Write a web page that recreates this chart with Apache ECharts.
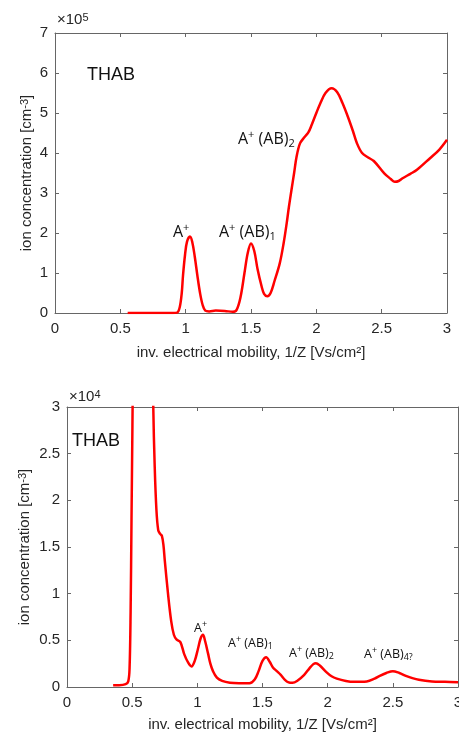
<!DOCTYPE html>
<html>
<head>
<meta charset="utf-8">
<script src="https://cdn.jsdelivr.net/npm/echarts@6/dist/echarts.min.js"></script>
<style>
html,body{margin:0;padding:0;background:#fff;}
#c{width:459px;height:733px;}
</style>
</head>
<body>
<div id="c"></div>
<script>
// ---- Data ----
// Top panel: inverse mobility (Vs/cm²) and ion concentration (×10^5 cm^-3)
const topX = [0.556,0.9,0.935,0.955,0.97,0.98,0.995,1.01,1.033,1.05,1.07,1.089,1.11,1.13,1.15,1.18,1.23,1.3,1.36,1.39,1.42,1.45,1.475,1.50,1.525,1.55,1.58,1.60,1.625,1.65,1.68,1.72,1.75,1.773,1.79,1.81,1.83,1.849,1.875,1.91,1.94,1.964,2.0,2.03,2.07,2.117,2.16,2.2,2.24,2.28,2.31,2.35,2.40,2.44,2.52,2.57,2.60,2.63,2.66,2.72,2.77,2.87,2.94,3.0];
const topY = [0,0,0.01,0.15,0.5,0.95,1.45,1.78,1.91,1.78,1.4,0.95,0.5,0.2,0.06,0.04,0.06,0.05,0.03,0.08,0.4,1.0,1.5,1.74,1.55,1.1,0.68,0.48,0.42,0.5,0.8,1.24,1.75,2.24,2.65,3.08,3.5,3.91,4.24,4.4,4.52,4.7,5.0,5.24,5.5,5.62,5.52,5.25,4.92,4.55,4.25,4.0,3.88,3.8,3.49,3.35,3.28,3.3,3.37,3.48,3.58,3.87,4.08,4.33];

// Bottom panel: inverse mobility (Vs/cm²) and ion concentration (×10^4 cm^-3)
const botX = [0.354,0.40,0.45,0.47,0.48,0.488,0.495,0.502,0.51,0.53,0.57,0.62,0.65,0.662,0.673,0.686,0.70,0.715,0.728,0.74,0.75,0.775,0.80,0.82,0.84,0.87,0.90,0.93,0.955,0.98,1.005,1.025,1.043,1.06,1.082,1.10,1.12,1.15,1.19,1.25,1.32,1.40,1.44,1.47,1.50,1.528,1.555,1.58,1.61,1.64,1.67,1.70,1.73,1.77,1.82,1.86,1.89,1.91,1.94,1.99,2.03,2.07,2.14,2.2,2.3,2.36,2.40,2.45,2.50,2.55,2.60,2.65,2.70,2.80,2.9,3.0];
const botY = [0.02,0.02,0.03,0.06,0.2,0.8,1.8,2.8,4,7,9,8,4.5,3.0,2.36,1.9,1.68,1.64,1.62,1.52,1.36,1.0,0.7,0.56,0.51,0.48,0.35,0.26,0.22,0.28,0.41,0.52,0.56,0.49,0.36,0.25,0.17,0.1,0.065,0.045,0.04,0.04,0.08,0.17,0.28,0.32,0.27,0.21,0.17,0.13,0.08,0.05,0.045,0.07,0.13,0.2,0.245,0.255,0.23,0.16,0.115,0.09,0.065,0.055,0.06,0.09,0.12,0.15,0.17,0.15,0.12,0.095,0.077,0.06,0.055,0.05];

const xTicks = [0, 3, 0.5];      // min, max, interval
const topYTicks = [0, 7, 1];
const botYTicks = [0, 3, 0.5];

// ---- Styles ----
const AX = '#666666';
const LBL = '#262626';
const FONT = '"Liberation Sans", Arial, sans-serif';
const ANN = '"Open Sans", Lato, sans-serif';

function pairs(xs, ys){ return xs.map((x,i)=>[x, ys[i]]); }

function xAxisDef(grid, pos, labels, name, gap){
  return {
    type:'value', gridIndex:grid, position:pos,
    min:xTicks[0], max:xTicks[1], interval:xTicks[2],
    axisLine:{show:true, onZero:false, lineStyle:{color:AX, width:1}},
    axisTick:{show:true, inside:true, length:4, lineStyle:{color:AX}},
    axisLabel:{show:labels, color:LBL, fontSize:15, fontFamily:FONT, margin:8},
    splitLine:{show:false},
    name: labels ? name : '', nameLocation:'middle', nameGap:gap, nameMoveOverlap:false,
    nameTextStyle:{color:LBL, fontSize:15, fontFamily:FONT}
  };
}
function yAxisDef(grid, pos, labels, ticks, gap){
  return {
    type:'value', gridIndex:grid, position:pos,
    min:ticks[0], max:ticks[1], interval:ticks[2],
    axisLine:{show:true, onZero:false, lineStyle:{color:AX, width:1}},
    axisTick:{show:true, inside:true, length:4, lineStyle:{color:AX}},
    axisLabel:{show:labels, color:LBL, fontSize:15, fontFamily:FONT, margin:7},
    splitLine:{show:false},
    name: labels ? 'ion concentration [cm{s|-3}]' : '', nameLocation:'middle', nameGap:gap,
    nameRotate:90, nameMoveOverlap:false,
    nameTextStyle:{color:LBL, fontSize:15, fontFamily:FONT,
      rich:{s:{fontSize:11, fontFamily:FONT, color:LBL, verticalAlign:'top', lineHeight:8}}}
  };
}

const xName = 'inv. electrical mobility, 1/Z [Vs/cm²]';

function annot(x, y, text, big){
  const fs = big ? 16 : 12.5, ss = big ? 11 : 9;
  return {
    type:'text', x:x, y:y, z:10,
    style:{
      text:text, fill:'#111', font: fs+'px '+ANN, verticalAlign:'middle', align:'left',
      rich:{
        n:{fontSize:fs, fontFamily:ANN, fill:'#111', lineHeight:fs+4, verticalAlign:'middle'},
        p:{fontSize:ss, fontFamily:ANN, fill:'#111', lineHeight:ss, verticalAlign:'top'},
        b:{fontSize:ss, fontFamily:ANN, fill:'#111', lineHeight:ss, verticalAlign:'bottom'}
      }
    }
  };
}

const chart = echarts.init(document.getElementById('c'), null, {renderer:'canvas'});
chart.setOption({
  animation:false,
  backgroundColor:'#ffffff',
  grid:[
    {left:55, top:33, width:392, height:280, outerBoundsMode:'none', containLabel:false},
    {left:67, top:407, width:391, height:280, outerBoundsMode:'none', containLabel:false}
  ],
  xAxis:[
    xAxisDef(0,'bottom',true,xName,32),
    xAxisDef(0,'top',false,'',0),
    xAxisDef(1,'bottom',true,xName,30),
    xAxisDef(1,'top',false,'',0)
  ],
  yAxis:[
    yAxisDef(0,'left',true,topYTicks,21),
    yAxisDef(0,'right',false,topYTicks,0),
    yAxisDef(1,'left',true,botYTicks,35),
    yAxisDef(1,'right',false,botYTicks,0)
  ],
  series:[
    {type:'line', xAxisIndex:0, yAxisIndex:0, data:pairs(topX, topY), smooth:0.35,
     showSymbol:false, clip:true, lineStyle:{color:'#ff0000', width:2.5}},
    {type:'line', xAxisIndex:2, yAxisIndex:2, data:pairs(botX, botY), smooth:0.35,
     showSymbol:false, clip:true, lineStyle:{color:'#ff0000', width:2.5}}
  ],
  graphic:[
    {type:'text', x:57, y:12, style:{text:'×10{s|5}', fill:LBL, font:'15px '+FONT,
      rich:{s:{fontSize:11, fontFamily:FONT, fill:LBL, verticalAlign:'top', lineHeight:9}}}},
    {type:'text', x:69, y:389, style:{text:'×10{s|4}', fill:LBL, font:'15px '+FONT,
      rich:{s:{fontSize:11, fontFamily:FONT, fill:LBL, verticalAlign:'top', lineHeight:9}}}},
    {type:'text', x:87, y:75, style:{text:'THAB', fill:'#111', font:'18px '+FONT, verticalAlign:'middle'}},
    {type:'text', x:72, y:441, style:{text:'THAB', fill:'#111', font:'18px '+FONT, verticalAlign:'middle'}},
    annot(173, 232, '{n|A}{p|+}', true),
    annot(219, 232, '{n|A}{p|+}{n| (AB)}{b|1}', true),
    annot(238, 139, '{n|A}{p|+}{n| (AB)}{b|2}', true),
    annot(194, 628, '{n|A}{p|+}', false),
    annot(228, 643, '{n|A}{p|+}{n| (AB)}{b|1}', false),
    annot(289, 653, '{n|A}{p|+}{n| (AB)}{b|2}', false),
    annot(364, 654, '{n|A}{p|+}{n| (AB)}{b|4?}', false)
  ]
});
</script>
</body>
</html>
